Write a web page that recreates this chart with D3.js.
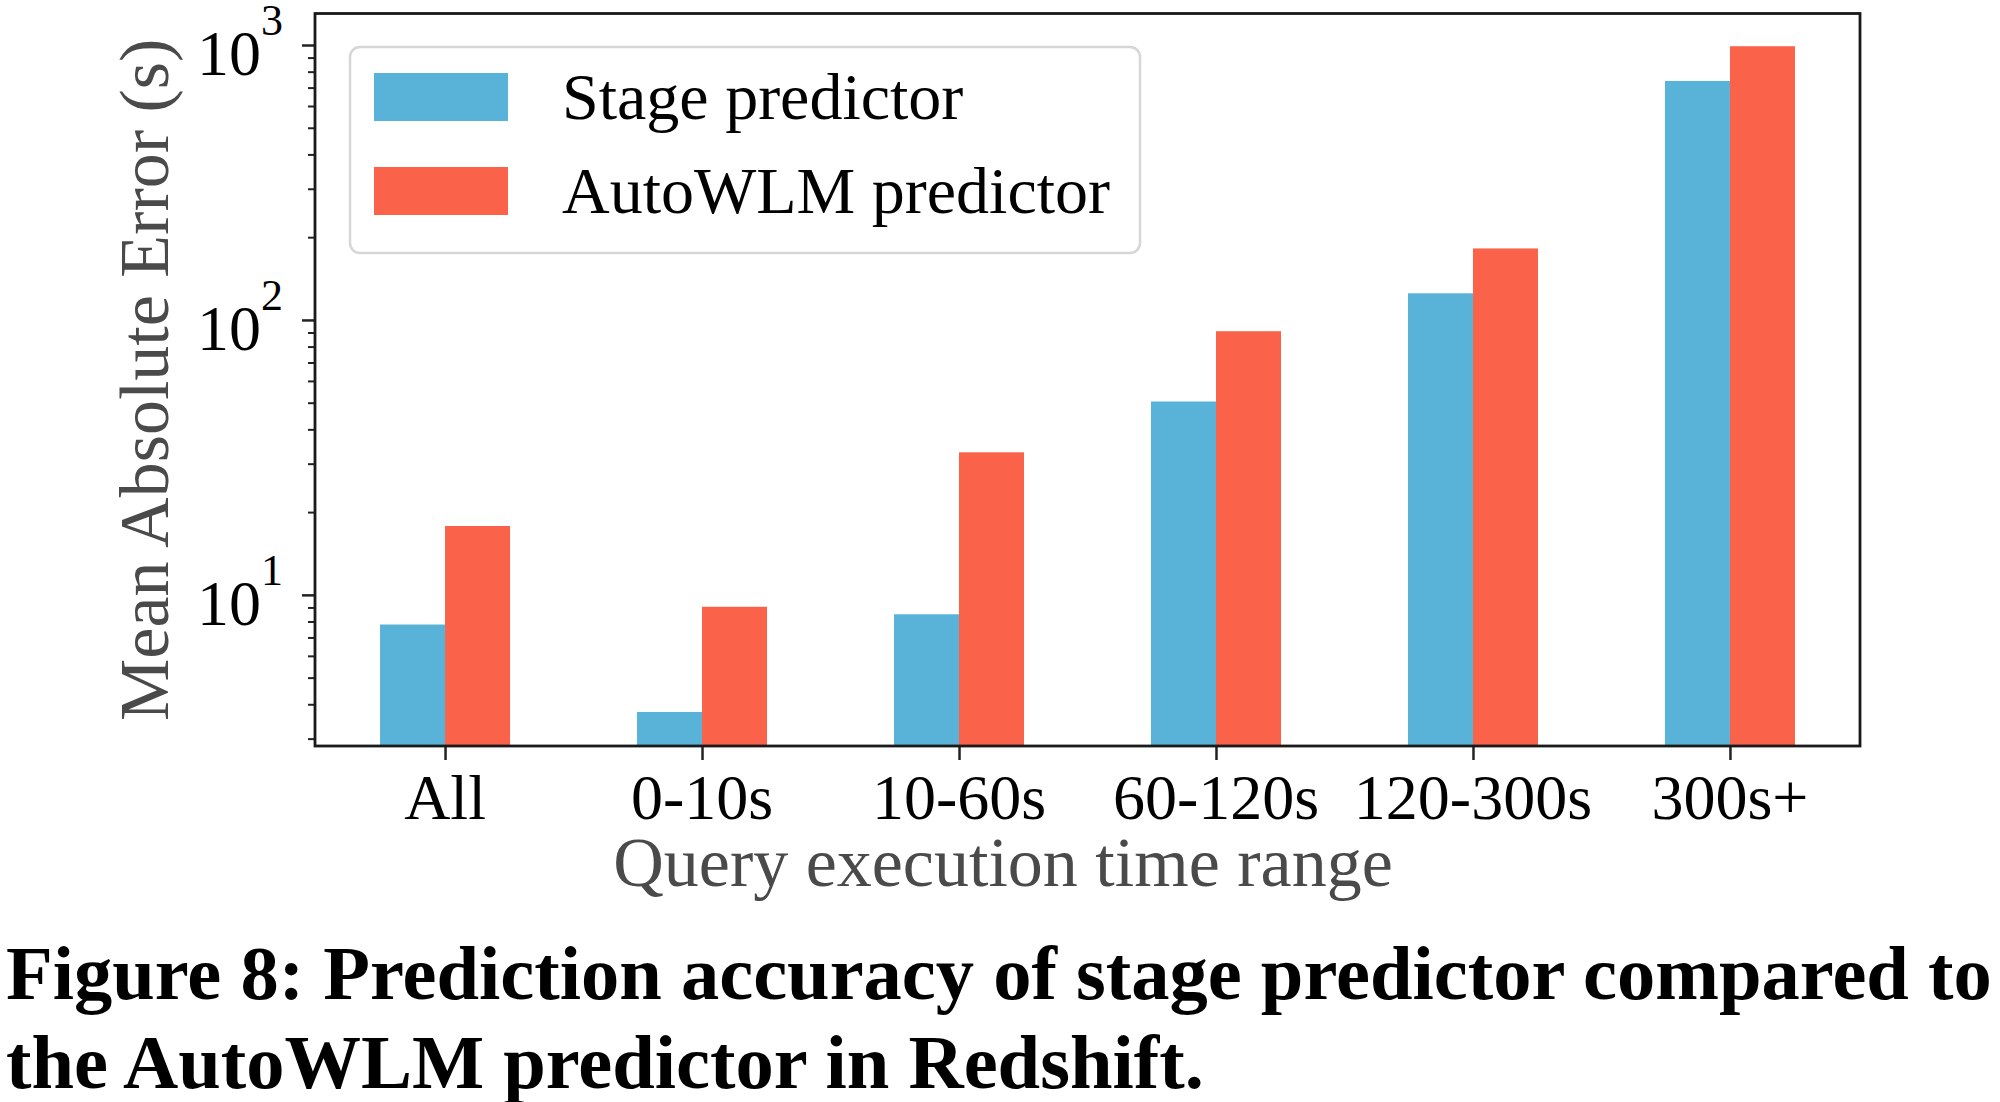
<!DOCTYPE html>
<html>
<head>
<meta charset="utf-8">
<script src="https://cdn.jsdelivr.net/npm/d3@7"></script>
<style>
  html, body { margin: 0; padding: 0; background: #fff; }
  svg { display: block; }
</style>
</head>
<body>
<svg id="chart" width="2000" height="1102"></svg>
<script>
// ---- data ----
const categories = ["All", "0-10s", "10-60s", "60-120s", "120-300s", "300s+"];
const seriesNames = ["Stage predictor", "AutoWLM predictor"];
const stageValues = [7.8, 3.75, 8.5, 50.5, 125, 740];
const autoWLMValues = [17.8, 9.05, 33, 91, 182, 990];
const yMajorTicks = [10, 100, 1000];
const yMajorExponents = ["1", "2", "3"];
const yMinorTicks = [3, 4, 5, 6, 7, 8, 9, 20, 30, 40, 50, 60, 70, 80, 90, 200, 300, 400, 500, 600, 700, 800, 900];
const xLabel = "Query execution time range";
const yLabel = "Mean Absolute Error (s)";
const captionLines = ["Figure 8: Prediction accuracy of stage predictor compared to",
                      "the AutoWLM predictor in Redshift."];

// ---- styles ----
const colors = ["#59b3d8", "#fa634a"];
const serif = "'Liberation Serif', 'Times New Roman', serif";

const svg = d3.select("#chart");
const L = 315, R = 1860, T = 13.5, B = 746;

const x = d3.scalePoint().domain(categories).range([L, R]).padding(0.506);
const y = d3.scaleLog().domain([2.82, 1302]).range([B, T]);
const barW = 65;

const series = [stageValues, autoWLMValues];

// bars
series.forEach((vals, si) => {
  svg.append("g").selectAll("rect").data(vals).join("rect")
    .attr("x", (d, i) => x(categories[i]) + (si === 0 ? -barW : 0))
    .attr("y", d => y(d))
    .attr("width", barW)
    .attr("height", d => B - y(d))
    .attr("fill", colors[si]);
});

// axes ticks
const gx = svg.append("g").attr("transform", `translate(0,${B})`)
  .call(d3.axisBottom(x).tickSize(14).tickFormat(""));
gx.select(".domain").remove();
gx.selectAll("line").attr("stroke", "#222").attr("stroke-width", 2.5);

const gyMaj = svg.append("g").attr("transform", `translate(${L},0)`)
  .call(d3.axisLeft(y).tickValues(yMajorTicks).tickSize(13).tickFormat(""));
gyMaj.select(".domain").remove();
gyMaj.selectAll("line").attr("stroke", "#222").attr("stroke-width", 2.5);

const gyMin = svg.append("g").attr("transform", `translate(${L},0)`)
  .call(d3.axisLeft(y).tickValues(yMinorTicks).tickSize(7).tickFormat(""));
gyMin.select(".domain").remove();
gyMin.selectAll("line").attr("stroke", "#222").attr("stroke-width", 2);

// frame
svg.append("rect").attr("x", L).attr("y", T).attr("width", R - L).attr("height", B - T)
  .attr("fill", "none").attr("stroke", "#1a1a1a").attr("stroke-width", 2.8);

// x tick labels
svg.append("g").selectAll("text").data(categories).join("text")
  .attr("x", d => x(d)).attr("y", 819)
  .attr("text-anchor", "middle")
  .attr("font-family", serif).attr("font-size", 64).attr("fill", "#000")
  .text(d => d);

// y tick labels with superscripts
const ytl = svg.append("g").selectAll("text").data(yMajorTicks).join("text")
  .attr("x", 283).attr("y", d => y(d) + 30)
  .attr("text-anchor", "end")
  .attr("font-family", serif).attr("font-size", 64).attr("fill", "#000");
ytl.append("tspan").text("10");
ytl.append("tspan").attr("dy", -40).attr("font-size", 44).text((d, i) => yMajorExponents[i]);

// axis labels
svg.append("text").attr("x", 1003).attr("y", 886)
  .attr("text-anchor", "middle").attr("font-family", serif).attr("font-size", 70)
  .attr("fill", "#4a4a4a").text(xLabel);
svg.append("text").attr("transform", `translate(168,${(T + B) / 2}) rotate(-90)`)
  .attr("text-anchor", "middle").attr("font-family", serif).attr("font-size", 70)
  .attr("fill", "#4a4a4a").text(yLabel);

// legend
const lg = svg.append("g");
lg.append("rect").attr("x", 350).attr("y", 47).attr("width", 790).attr("height", 206)
  .attr("rx", 10).attr("fill", "#fff").attr("fill-opacity", 0.85)
  .attr("stroke", "#d6d6d6").attr("stroke-width", 2.5);
const lgY = [73, 167];
seriesNames.forEach((name, i) => {
  lg.append("rect").attr("x", 374).attr("y", lgY[i]).attr("width", 134).attr("height", 48)
    .attr("fill", colors[i]);
  lg.append("text").attr("x", 562).attr("y", lgY[i] + 46)
    .attr("font-family", serif).attr("font-size", 66).attr("fill", "#000").text(name);
});

// caption
const capBase = [999, 1088];
const cap = svg.append("g").selectAll("text").data(captionLines).join("text")
  .attr("x", 6).attr("y", (d, i) => capBase[i])
  .attr("font-family", serif).attr("font-weight", "bold").attr("font-size", 70)
  .attr("fill", "#000").text(d => d);
const w0 = cap.nodes()[0].getComputedTextLength();
const fs = 70 * 1986 / w0;
cap.attr("font-size", fs);
</script>
</body>
</html>
